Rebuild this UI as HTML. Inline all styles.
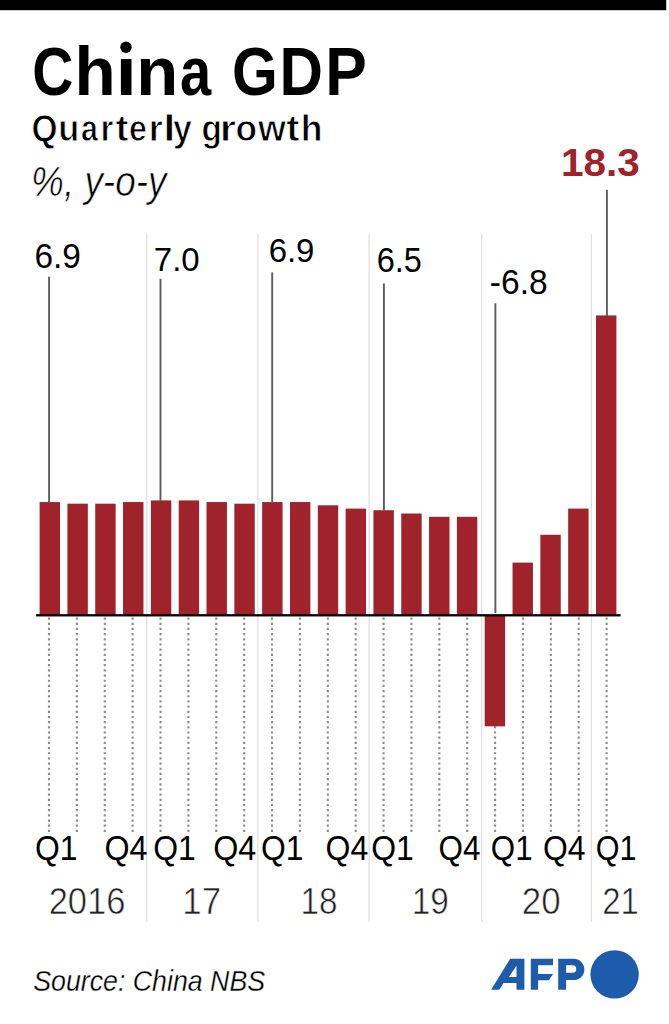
<!DOCTYPE html>
<html><head><meta charset="utf-8"><title>China GDP</title>
<style>
html,body{margin:0;padding:0;background:#fff;}
body{width:669px;height:1024px;overflow:hidden;position:relative;}
svg{position:absolute;left:0;top:0;display:block;}
text{font-family:"Liberation Sans",sans-serif;}
</style></head><body>
<svg width="669" height="1024" viewBox="0 0 669 1024">
<rect x="0" y="0" width="666.2" height="10.2" fill="#000"/>
<text transform="translate(32.17,94.60) scale(0.8246,1)" font-size="69.00" font-weight="bold" font-style="normal" fill="#000" >C</text>
<text transform="translate(74.49,94.60) scale(0.9773,1)" font-size="69.00" font-weight="bold" font-style="normal" fill="#000" >h</text>
<text transform="translate(115.41,94.60) scale(1.1196,1)" font-size="69.00" font-weight="bold" font-style="normal" fill="#000" >i</text>
<text transform="translate(136.17,94.60) scale(0.9964,1)" font-size="69.00" font-weight="bold" font-style="normal" fill="#000" >n</text>
<text transform="translate(179.96,94.60) scale(0.8127,1)" font-size="69.00" font-weight="bold" font-style="normal" fill="#000" >a</text>
<text transform="translate(231.89,94.60) scale(0.8526,1)" font-size="69.00" font-weight="bold" font-style="normal" fill="#000" >G</text>
<text transform="translate(279.58,94.60) scale(0.8720,1)" font-size="69.00" font-weight="bold" font-style="normal" fill="#000" >D</text>
<text transform="translate(325.33,94.60) scale(0.9040,1)" font-size="69.00" font-weight="bold" font-style="normal" fill="#000" >P</text>
<rect x="118.5" y="43.5" width="15" height="9.5" fill="#fff"/><circle cx="126" cy="47.3" r="5.7" fill="#000"/>
<text transform="translate(31.62,141.00) scale(0.9238,1)" font-size="36.30" font-weight="bold" font-style="normal" fill="#000" stroke="#fff" stroke-width="0.9">Q</text>
<text transform="translate(58.27,141.00) scale(0.9470,1)" font-size="36.30" font-weight="bold" font-style="normal" fill="#000" stroke="#fff" stroke-width="0.9">u</text>
<text transform="translate(80.91,141.00) scale(0.8370,1)" font-size="36.30" font-weight="bold" font-style="normal" fill="#000" stroke="#fff" stroke-width="0.9">a</text>
<text transform="translate(100.62,141.00) scale(0.9120,1)" font-size="36.30" font-weight="bold" font-style="normal" fill="#000" stroke="#fff" stroke-width="0.9">r</text>
<text transform="translate(115.43,141.00) scale(1.0712,1)" font-size="36.30" font-weight="bold" font-style="normal" fill="#000" stroke="#fff" stroke-width="0.9">t</text>
<text transform="translate(129.05,141.00) scale(0.8842,1)" font-size="36.30" font-weight="bold" font-style="normal" fill="#000" stroke="#fff" stroke-width="0.9">e</text>
<text transform="translate(148.73,141.00) scale(0.9925,1)" font-size="36.30" font-weight="bold" font-style="normal" fill="#000" stroke="#fff" stroke-width="0.9">r</text>
<text transform="translate(162.89,141.00) scale(1.2649,1)" font-size="36.30" font-weight="bold" font-style="normal" fill="#000" stroke="#fff" stroke-width="0.9">l</text>
<text transform="translate(172.93,141.00) scale(0.9386,1)" font-size="36.30" font-weight="bold" font-style="normal" fill="#000" stroke="#fff" stroke-width="0.9">y</text>
<text transform="translate(201.43,141.00) scale(0.9202,1)" font-size="36.30" font-weight="bold" font-style="normal" fill="#000" stroke="#fff" stroke-width="0.9">g</text>
<text transform="translate(219.64,141.00) scale(1.1534,1)" font-size="36.30" font-weight="bold" font-style="normal" fill="#000" stroke="#fff" stroke-width="0.9">r</text>
<text transform="translate(235.52,141.00) scale(0.9722,1)" font-size="36.30" font-weight="bold" font-style="normal" fill="#000" stroke="#fff" stroke-width="0.9">o</text>
<text transform="translate(257.91,141.00) scale(0.9890,1)" font-size="36.30" font-weight="bold" font-style="normal" fill="#000" stroke="#fff" stroke-width="0.9">w</text>
<text transform="translate(286.32,141.00) scale(1.0891,1)" font-size="36.30" font-weight="bold" font-style="normal" fill="#000" stroke="#fff" stroke-width="0.9">t</text>
<text transform="translate(300.71,141.00) scale(0.9834,1)" font-size="36.30" font-weight="bold" font-style="normal" fill="#000" stroke="#fff" stroke-width="0.9">h</text>
<text x="31.07" y="195.60" font-size="42.22" font-weight="normal" font-style="italic" textLength="135.38" lengthAdjust="spacingAndGlyphs" fill="#000" stroke="#fff" stroke-width="0.6">%, y-o-y</text>
<rect x="146.10" y="234" width="1.2" height="688" fill="#dedede"/>
<rect x="257.30" y="234" width="1.2" height="688" fill="#dedede"/>
<rect x="368.50" y="234" width="1.2" height="688" fill="#dedede"/>
<rect x="481.10" y="234" width="1.2" height="688" fill="#dedede"/>
<rect x="590.80" y="234" width="1.2" height="688" fill="#dedede"/>
<line x1="49.00" y1="617.50" x2="49.00" y2="832.2" stroke="#8c8c8c" stroke-width="2.1" stroke-dasharray="2.2 2.978"/>
<line x1="76.88" y1="617.50" x2="76.88" y2="832.2" stroke="#8c8c8c" stroke-width="2.1" stroke-dasharray="2.2 2.978"/>
<line x1="104.76" y1="617.50" x2="104.76" y2="832.2" stroke="#8c8c8c" stroke-width="2.1" stroke-dasharray="2.2 2.978"/>
<line x1="132.64" y1="617.50" x2="132.64" y2="832.2" stroke="#8c8c8c" stroke-width="2.1" stroke-dasharray="2.2 2.978"/>
<line x1="160.52" y1="617.50" x2="160.52" y2="832.2" stroke="#8c8c8c" stroke-width="2.1" stroke-dasharray="2.2 2.978"/>
<line x1="188.40" y1="617.50" x2="188.40" y2="832.2" stroke="#8c8c8c" stroke-width="2.1" stroke-dasharray="2.2 2.978"/>
<line x1="216.28" y1="617.50" x2="216.28" y2="832.2" stroke="#8c8c8c" stroke-width="2.1" stroke-dasharray="2.2 2.978"/>
<line x1="244.16" y1="617.50" x2="244.16" y2="832.2" stroke="#8c8c8c" stroke-width="2.1" stroke-dasharray="2.2 2.978"/>
<line x1="272.04" y1="617.50" x2="272.04" y2="832.2" stroke="#8c8c8c" stroke-width="2.1" stroke-dasharray="2.2 2.978"/>
<line x1="299.92" y1="617.50" x2="299.92" y2="832.2" stroke="#8c8c8c" stroke-width="2.1" stroke-dasharray="2.2 2.978"/>
<line x1="327.80" y1="617.50" x2="327.80" y2="832.2" stroke="#8c8c8c" stroke-width="2.1" stroke-dasharray="2.2 2.978"/>
<line x1="355.68" y1="617.50" x2="355.68" y2="832.2" stroke="#8c8c8c" stroke-width="2.1" stroke-dasharray="2.2 2.978"/>
<line x1="383.56" y1="617.50" x2="383.56" y2="832.2" stroke="#8c8c8c" stroke-width="2.1" stroke-dasharray="2.2 2.978"/>
<line x1="411.44" y1="617.50" x2="411.44" y2="832.2" stroke="#8c8c8c" stroke-width="2.1" stroke-dasharray="2.2 2.978"/>
<line x1="439.32" y1="617.50" x2="439.32" y2="832.2" stroke="#8c8c8c" stroke-width="2.1" stroke-dasharray="2.2 2.978"/>
<line x1="467.20" y1="617.50" x2="467.20" y2="832.2" stroke="#8c8c8c" stroke-width="2.1" stroke-dasharray="2.2 2.978"/>
<line x1="495.08" y1="617.50" x2="495.08" y2="832.2" stroke="#8c8c8c" stroke-width="2.1" stroke-dasharray="2.2 2.978"/>
<line x1="522.96" y1="617.50" x2="522.96" y2="832.2" stroke="#8c8c8c" stroke-width="2.1" stroke-dasharray="2.2 2.978"/>
<line x1="550.84" y1="617.50" x2="550.84" y2="832.2" stroke="#8c8c8c" stroke-width="2.1" stroke-dasharray="2.2 2.978"/>
<line x1="578.72" y1="617.50" x2="578.72" y2="832.2" stroke="#8c8c8c" stroke-width="2.1" stroke-dasharray="2.2 2.978"/>
<line x1="606.60" y1="617.50" x2="606.60" y2="832.2" stroke="#8c8c8c" stroke-width="2.1" stroke-dasharray="2.2 2.978"/>
<rect x="39.60" y="502.05" width="20.4" height="112.95" fill="#a0222b"/>
<rect x="67.42" y="503.68" width="20.4" height="111.32" fill="#a0222b"/>
<rect x="95.24" y="503.68" width="20.4" height="111.32" fill="#a0222b"/>
<rect x="123.06" y="502.05" width="20.4" height="112.95" fill="#a0222b"/>
<rect x="150.88" y="500.41" width="20.4" height="114.59" fill="#a0222b"/>
<rect x="178.70" y="500.41" width="20.4" height="114.59" fill="#a0222b"/>
<rect x="206.52" y="502.05" width="20.4" height="112.95" fill="#a0222b"/>
<rect x="234.34" y="503.68" width="20.4" height="111.32" fill="#a0222b"/>
<rect x="262.16" y="502.05" width="20.4" height="112.95" fill="#a0222b"/>
<rect x="289.98" y="502.05" width="20.4" height="112.95" fill="#a0222b"/>
<rect x="317.80" y="505.32" width="20.4" height="109.68" fill="#a0222b"/>
<rect x="345.62" y="508.60" width="20.4" height="106.41" fill="#a0222b"/>
<rect x="373.44" y="510.23" width="20.4" height="104.77" fill="#a0222b"/>
<rect x="401.26" y="513.51" width="20.4" height="101.49" fill="#a0222b"/>
<rect x="429.08" y="516.78" width="20.4" height="98.22" fill="#a0222b"/>
<rect x="456.90" y="516.78" width="20.4" height="98.22" fill="#a0222b"/>
<rect x="484.72" y="615.00" width="20.4" height="111.32" fill="#a0222b"/>
<rect x="512.54" y="562.62" width="20.4" height="52.38" fill="#a0222b"/>
<rect x="540.36" y="534.79" width="20.4" height="80.21" fill="#a0222b"/>
<rect x="568.18" y="508.60" width="20.4" height="106.41" fill="#a0222b"/>
<rect x="596.00" y="315.43" width="20.4" height="299.57" fill="#a0222b"/>
<rect x="36.1" y="614.15" width="584.5" height="2.3" fill="#000"/>
<rect x="48.15" y="276.70" width="1.9" height="226.30" fill="#5c5c5c"/>
<rect x="159.55" y="278.80" width="1.9" height="222.20" fill="#5c5c5c"/>
<rect x="271.25" y="272.40" width="1.9" height="230.60" fill="#5c5c5c"/>
<rect x="382.95" y="283.50" width="1.9" height="227.50" fill="#5c5c5c"/>
<rect x="494.45" y="303.30" width="1.9" height="309.70" fill="#5c5c5c"/>
<rect x="605.95" y="189.80" width="1.9" height="126.20" fill="#5c5c5c"/>
<text x="34.40" y="267.70" font-size="34.66" font-weight="normal" font-style="normal" textLength="46.48" lengthAdjust="spacingAndGlyphs" fill="#000" >6.9</text>
<text x="153.81" y="271.40" font-size="32.80" font-weight="normal" font-style="normal" textLength="45.88" lengthAdjust="spacingAndGlyphs" fill="#000" >7.0</text>
<text x="268.63" y="261.60" font-size="34.09" font-weight="normal" font-style="normal" textLength="45.84" lengthAdjust="spacingAndGlyphs" fill="#000" >6.9</text>
<text x="376.65" y="271.80" font-size="34.66" font-weight="normal" font-style="normal" textLength="45.22" lengthAdjust="spacingAndGlyphs" fill="#000" >6.5</text>
<text x="489.81" y="293.90" font-size="34.52" font-weight="normal" font-style="normal" textLength="57.85" lengthAdjust="spacingAndGlyphs" fill="#000" >-6.8</text>
<text x="560.95" y="176.20" font-size="38.95" font-weight="bold" font-style="normal" textLength="78.81" lengthAdjust="spacingAndGlyphs" fill="#a0222b" >18.3</text>
<text x="34.99" y="860.00" font-size="34.66" font-weight="normal" font-style="normal" textLength="42.46" lengthAdjust="spacingAndGlyphs" fill="#000" >Q1</text>
<text x="104.47" y="860.00" font-size="34.66" font-weight="normal" font-style="normal" textLength="43.08" lengthAdjust="spacingAndGlyphs" fill="#000" >Q4</text>
<text x="153.29" y="860.00" font-size="34.66" font-weight="normal" font-style="normal" textLength="42.57" lengthAdjust="spacingAndGlyphs" fill="#000" >Q1</text>
<text x="213.17" y="860.00" font-size="34.66" font-weight="normal" font-style="normal" textLength="43.08" lengthAdjust="spacingAndGlyphs" fill="#000" >Q4</text>
<text x="261.09" y="860.00" font-size="34.66" font-weight="normal" font-style="normal" textLength="42.46" lengthAdjust="spacingAndGlyphs" fill="#000" >Q1</text>
<text x="325.59" y="860.00" font-size="34.66" font-weight="normal" font-style="normal" textLength="42.65" lengthAdjust="spacingAndGlyphs" fill="#000" >Q4</text>
<text x="371.19" y="860.00" font-size="34.66" font-weight="normal" font-style="normal" textLength="42.57" lengthAdjust="spacingAndGlyphs" fill="#000" >Q1</text>
<text x="438.61" y="860.00" font-size="34.66" font-weight="normal" font-style="normal" textLength="41.91" lengthAdjust="spacingAndGlyphs" fill="#000" >Q4</text>
<text x="490.82" y="860.00" font-size="34.66" font-weight="normal" font-style="normal" textLength="41.71" lengthAdjust="spacingAndGlyphs" fill="#000" >Q1</text>
<text x="542.89" y="860.00" font-size="34.66" font-weight="normal" font-style="normal" textLength="42.54" lengthAdjust="spacingAndGlyphs" fill="#000" >Q4</text>
<text x="595.85" y="860.00" font-size="34.66" font-weight="normal" font-style="normal" textLength="40.74" lengthAdjust="spacingAndGlyphs" fill="#000" >Q1</text>
<text x="48.66" y="914.00" font-size="36.52" font-weight="normal" font-style="normal" textLength="76.86" lengthAdjust="spacingAndGlyphs" fill="#222" stroke="#fff" stroke-width="0.6">2016</text>
<text x="182.34" y="914.00" font-size="36.52" font-weight="normal" font-style="normal" textLength="38.81" lengthAdjust="spacingAndGlyphs" fill="#222" stroke="#fff" stroke-width="0.6">17</text>
<text x="300.57" y="914.00" font-size="36.52" font-weight="normal" font-style="normal" textLength="36.98" lengthAdjust="spacingAndGlyphs" fill="#222" stroke="#fff" stroke-width="0.6">18</text>
<text x="411.76" y="914.00" font-size="36.52" font-weight="normal" font-style="normal" textLength="37.12" lengthAdjust="spacingAndGlyphs" fill="#222" stroke="#fff" stroke-width="0.6">19</text>
<text x="521.74" y="914.00" font-size="36.52" font-weight="normal" font-style="normal" textLength="38.82" lengthAdjust="spacingAndGlyphs" fill="#222" stroke="#fff" stroke-width="0.6">20</text>
<text x="602.14" y="914.00" font-size="36.52" font-weight="normal" font-style="normal" textLength="36.67" lengthAdjust="spacingAndGlyphs" fill="#222" stroke="#fff" stroke-width="0.6">21</text>
<text x="33.24" y="990.80" font-size="28.65" font-weight="normal" font-style="italic" textLength="231.84" lengthAdjust="spacingAndGlyphs" fill="#000" stroke="#fff" stroke-width="0.3">Source: China NBS</text>
<polygon points="491.1,989.8 510.2,958.8 524.4,958.8 524.4,989.8 516.5,989.8 516.5,982.9 503.5,982.9 499.3,989.8" fill="#1e5cab"/>
<polygon points="516.5,965.7 516.5,976.9 508.9,976.9" fill="#fff"/>
<path d="M530.8 958.8H553V965.3H538.1V973.9H553L548.9 980.3H538.1V989.8H530.8Z" fill="#1e5cab"/>
<path d="M558.2 958.8H573.75A10.65 10.65 0 0 1 573.75 980.1H566.1V989.8H558.2Z M566.1 965.2V972.7H572.5A3.75 3.75 0 0 0 572.5 965.2Z" fill="#1e5cab" fill-rule="evenodd"/>
<circle cx="614.6" cy="974.4" r="24.2" fill="#1e5cab"/>
</svg>
</body></html>
